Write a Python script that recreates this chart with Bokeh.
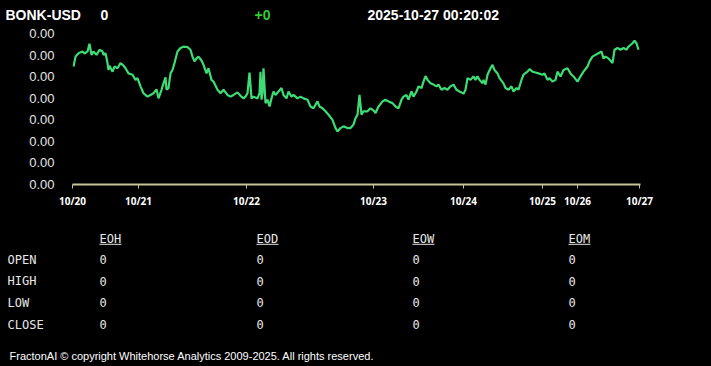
from bokeh.plotting import figure
from bokeh.models import Range1d, FixedTicker, PrintfTickFormatter
from bokeh.layouts import column
from bokeh.core.properties import value
from bokeh.embed import file_html
from bokeh.resources import INLINE

# ---------------- data ----------------
symbol = "BONK-USD"
last_price = "0"
change = "+0"
timestamp = "2025-10-27 00:20:02"

# bar index of each sample (irregular sampling)
bar_index = [1, 3, 6, 10, 12, 15, 17, 19, 21, 24, 27, 30, 31, 33, 35, 36, 37, 40, 42, 45,
             48, 51, 53, 56, 60, 63, 65, 68, 71, 75, 78, 81, 84, 86, 89, 91, 93, 94, 96, 98,
             100, 102, 105, 108, 111, 115, 118, 120, 122, 124, 126, 129, 131, 134, 136, 139, 141, 145, 148, 151,
             155, 158, 161, 165, 168, 171, 173, 175, 177, 179, 181, 185, 187, 188, 189, 190, 191, 193, 195, 197,
             199, 201, 203, 206, 209, 211, 214, 216, 219, 221, 225, 228, 231, 235, 238, 241, 245, 247, 250, 253,
             256, 260, 263, 265, 268, 271, 275, 278, 281, 283, 285, 287, 289, 291, 295, 298, 301, 303, 306, 310,
             313, 316, 320, 323, 326, 329, 331, 334, 336, 339, 341, 344, 346, 349, 351, 353, 355, 358, 361, 364,
             366, 369, 372, 375, 378, 381, 384, 387, 391, 393, 395, 398, 401, 403, 405, 407, 410, 411, 413, 415,
             418, 420, 422, 425, 427, 431, 433, 436, 439, 441, 444, 446, 449, 451, 455, 457, 460, 463, 466, 470,
             472, 475, 477, 480, 483, 485, 488, 491, 495, 498, 501, 505, 508, 511, 515, 517, 520, 523, 526, 529,
             531, 533, 536, 540, 542, 545, 548, 551, 554, 556, 560, 562, 564, 566]
# price in USD (listed in 1e-8 units, converted below)
price_e8 = [1574, 1597, 1605, 1609, 1604, 1609, 1627, 1601, 1609, 1601, 1613, 1609, 1601, 1605, 1582, 1566, 1576, 1562, 1574, 1570,
            1582, 1576, 1570, 1558, 1555, 1543, 1547, 1528, 1512, 1504, 1508, 1512, 1521, 1500, 1520, 1535, 1549, 1520, 1524, 1558,
            1566, 1582, 1609, 1617, 1620, 1619, 1613, 1597, 1586, 1593, 1597, 1588, 1578, 1558, 1570, 1543, 1539, 1520, 1512, 1520,
            1508, 1504, 1508, 1514, 1506, 1500, 1504, 1512, 1560, 1500, 1504, 1500, 1512, 1562, 1497, 1512, 1570, 1489, 1497, 1481,
            1500, 1516, 1508, 1516, 1524, 1508, 1500, 1516, 1504, 1508, 1500, 1504, 1500, 1497, 1481, 1477, 1493, 1481, 1477, 1470,
            1462, 1450, 1431, 1423, 1431, 1435, 1431, 1431, 1439, 1454, 1462, 1508, 1462, 1470, 1470, 1477, 1472, 1466, 1481, 1493,
            1497, 1493, 1489, 1481, 1477, 1497, 1504, 1508, 1497, 1516, 1504, 1516, 1528, 1524, 1539, 1552, 1543, 1535, 1532, 1528,
            1532, 1520, 1524, 1520, 1528, 1532, 1520, 1516, 1511, 1520, 1547, 1543, 1551, 1543, 1551, 1543, 1535, 1543, 1532, 1555,
            1570, 1578, 1566, 1558, 1547, 1535, 1524, 1520, 1528, 1516, 1524, 1520, 1543, 1555, 1562, 1568, 1562, 1560, 1558, 1555,
            1558, 1543, 1547, 1539, 1543, 1562, 1551, 1566, 1570, 1558, 1551, 1539, 1551, 1562, 1574, 1586, 1597, 1601, 1605, 1609,
            1593, 1597, 1593, 1582, 1613, 1617, 1613, 1617, 1613, 1620, 1628, 1634, 1628, 1613]
prices = [v * 1e-8 for v in price_e8]

y_ticks = [1.30e-5, 1.35e-5, 1.40e-5, 1.45e-5, 1.50e-5, 1.55e-5, 1.60e-5, 1.65e-5]
x_tick_index = [0, 66, 174, 301, 391, 470, 505, 567]
x_tick_labels = ["10/20", "10/21", "10/22", "10/23", "10/24", "10/25", "10/26", "10/27"]

table_headers = ["EOH", "EOD", "EOW", "EOM"]
table_rows = ["OPEN", "HIGH", "LOW", "CLOSE"]
table_values = [["0", "0", "0", "0"],
                ["0", "0", "0", "0"],
                ["0", "0", "0", "0"],
                ["0", "0", "0", "0"]]
footer = "FractonAI \u00a9 copyright Whitehorse Analytics 2009-2025. All rights reserved."

W = 711
BG = "#000000"


def panel(h):
    f = figure(width=W, height=h, x_range=Range1d(0, W), y_range=Range1d(h, 0),
               output_backend="svg", toolbar_location=None, x_axis_type=None, y_axis_type=None,
               min_border=0, background_fill_color=BG, border_fill_color=BG, outline_line_color=None,
               frame_align=False)
    f.grid.visible = False
    return f


# ---------------- header ----------------
head = panel(22)
bold14 = dict(text_font=value("Liberation Sans"), text_font_size="14px", text_font_style="bold",
              text_baseline="alphabetic")
head.text(x=[5, 100], y=[14.5, 14.5], text=[symbol, last_price], text_color="#ffffff", **bold14)
head.text(x=[254], y=[14.5], text=[change], text_color="#33cc33", **bold14)
head.text(x=[367], y=[14.5], text=[timestamp], text_color="#ffffff", **bold14)

# ---------------- chart ----------------
ymin = y_ticks[0]
ymax = y_ticks[0] + (y_ticks[-1] - y_ticks[0]) * 158 / 150.7
p = figure(width=W, height=188, x_range=Range1d(0, 568), y_range=Range1d(ymin, ymax),
           output_backend="svg", toolbar_location=None,
           min_border_left=72, min_border_right=71, min_border_top=4, min_border_bottom=26,
           background_fill_color=BG, border_fill_color=BG, outline_line_color=None,
           frame_align=False)
p.grid.visible = False
p.line(x=bar_index, y=prices, line_color="#3ddc74", line_width=2.2)

p.yaxis.ticker = FixedTicker(ticks=y_ticks)
p.yaxis.formatter = PrintfTickFormatter(format="%.2f")
p.yaxis.axis_line_color = None
p.yaxis.major_tick_line_color = None
p.yaxis.minor_tick_line_color = None
p.yaxis.major_label_standoff = 12
p.yaxis.major_label_text_color = "#e6e6e6"
p.yaxis.major_label_text_font = "Liberation Sans"
p.yaxis.major_label_text_font_size = "13px"

p.xaxis.ticker = FixedTicker(ticks=x_tick_index)
p.xaxis.major_label_overrides = {t: l for t, l in zip(x_tick_index, x_tick_labels)}
p.xaxis.axis_line_color = "#c8c49a"
p.xaxis.axis_line_width = 2
p.xaxis.major_tick_line_color = "#c8c49a"
p.xaxis.major_tick_in = 0
p.xaxis.major_tick_out = 4
p.xaxis.minor_tick_line_color = None
p.xaxis.major_label_standoff = 5
p.xaxis.major_label_text_color = "#ffffff"
p.xaxis.major_label_text_font = "Open Sans"
p.xaxis.major_label_text_font_size = "10px"
p.xaxis.major_label_text_font_style = "bold"

# ---------------- table + footer ----------------
tab = panel(156)
col_x = [99, 256, 412, 568]
row_y = [49.3, 70.7, 92, 114]
mono = dict(text_font=value("DejaVu Sans Mono"), text_font_size="12px", text_baseline="middle",
            text_color="#e8e8e8")
tab.text(x=col_x, y=[28.3] * 4, text=table_headers, **mono)
tab.segment(x0=col_x, y0=[33.8] * 4, x1=[c + 22 for c in col_x], y1=[33.8] * 4,
            line_color="#e8e8e8", line_width=1)
tab.text(x=[7] * 4, y=row_y, text=table_rows, **mono)
for r, yy in enumerate(row_y):
    tab.text(x=col_x, y=[yy] * 4, text=table_values[r], **mono)
tab.text(x=[9], y=[145.5], text=[footer], text_color="#ffffff", text_font=value("Liberation Sans"),
         text_font_size="11px", text_baseline="middle")

layout = column(head, p, tab, spacing=0)
layout.styles = {"background-color": "#000000"}

open("out.html", "w").write(file_html(layout, INLINE))
